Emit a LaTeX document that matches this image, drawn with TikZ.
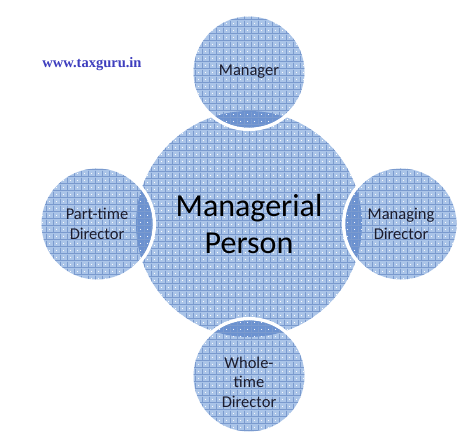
\documentclass[tikz,border=0pt]{standalone}
\usepackage{tkz-euclide}
\usepackage{fontspec}
\setmainfont{Carlito}
\newfontfamily\sitefont{Liberation Serif}
\usetikzlibrary{patterns}

\definecolor{basefill}{RGB}{170,196,232}
\definecolor{gridline}{RGB}{122,154,206}
\definecolor{lensfill}{RGB}{108,146,208}
\definecolor{labeltext}{RGB}{28,28,45}
\definecolor{siteblue}{RGB}{62,62,190}

% 网格纹理(带白点)
\pgfdeclarepatterninherentlycolored{taxgrid}
{\pgfpointorigin}{\pgfqpoint{6.5pt}{6.5pt}}{\pgfqpoint{6.5pt}{6.5pt}}
{
  \pgfsetlinewidth{0.8pt}
  \pgfsetstrokecolor{gridline}
  \pgfpathmoveto{\pgfqpoint{0pt}{0.5pt}}\pgfpathlineto{\pgfqpoint{6.5pt}{0.5pt}}
  \pgfpathmoveto{\pgfqpoint{0.5pt}{0pt}}\pgfpathlineto{\pgfqpoint{0.5pt}{6.5pt}}
  \pgfusepath{stroke}
  \pgfsetfillcolor{white}
  \pgfpathcircle{\pgfqpoint{3.75pt}{3.75pt}}{0.55pt}
  \pgfusepath{fill}
}

\begin{document}
\begin{tikzpicture}[
  x=1pt, y=1pt,
  gapring/.style={draw=white, line width=3.5pt},
  bigtext/.style={align=center, text=black, font=\fontsize{32}{37}\selectfont},
  smalltext/.style={align=center, text=labeltext, font=\fontsize{16.5}{19.5}\selectfont},
  site/.style={text=siteblue, font=\sitefont\bfseries\fontsize{14.5}{17}\selectfont}]
  % 画布大小
  \useasboundingbox (0,0) rectangle (466,437);
  % 定义中心点O
  \tkzDefPoints{249/213/O}
  % 利用相对位置,用极坐标定义四个小圆圆心
  \tkzDefShiftPoint[O](90:152){T}
  \tkzDefShiftPoint[O](0:152){R}
  \tkzDefShiftPoint[O](-90:152){B}
  \tkzDefShiftPoint[O](180:152){L}

  % 中心大圆
  \fill[basefill] (O) circle (113);
  \fill[pattern=taxgrid] (O) circle (113);

  % 上方小圆
  \draw[gapring] (T) circle (57.3);
  \fill[basefill] (T) circle (55.5);
  \begin{scope} \clip (T) circle (55.5); \fill[lensfill] (O) circle (113); \end{scope}
  \fill[pattern=taxgrid] (T) circle (55.5);

  % 右方小圆
  \draw[gapring] (R) circle (57.3);
  \fill[basefill] (R) circle (55.5);
  \begin{scope} \clip (R) circle (55.5); \fill[lensfill] (O) circle (113); \end{scope}
  \fill[pattern=taxgrid] (R) circle (55.5);

  % 下方小圆
  \draw[gapring] (B) circle (57.3);
  \fill[basefill] (B) circle (55.5);
  \begin{scope} \clip (B) circle (55.5); \fill[lensfill] (O) circle (113); \end{scope}
  \fill[pattern=taxgrid] (B) circle (55.5);

  % 左方小圆
  \draw[gapring] (L) circle (57.3);
  \fill[basefill] (L) circle (55.5);
  \begin{scope} \clip (L) circle (55.5); \fill[lensfill] (O) circle (113); \end{scope}
  \fill[pattern=taxgrid] (L) circle (55.5);

  % 文字
  \node[bigtext] (mp) at (O) {Managerial\\Person};
  \node[smalltext] (mgr) at (T) {Manager};
  \node[smalltext] (md) at (R) {Managing\\Director};
  \node[smalltext] (wtd) at ([yshift=-6pt]B) {Whole-\\time\\Director};
  \node[smalltext] (ptd) at (L) {Part-time\\Director};
  % 网址
  \node[site] (url) at (92,373) {www.taxguru.in};
\end{tikzpicture}
\end{document}
